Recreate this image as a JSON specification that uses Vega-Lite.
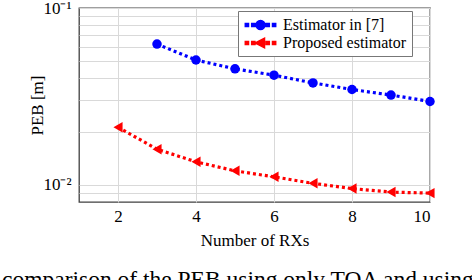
{
  "$schema": "https://vega.github.io/schema/vega-lite/v6.json",
  "width": 351,
  "height": 194,
  "autosize": {"type": "none"},
  "padding": {"left": 79, "top": 8, "right": 42, "bottom": 78},
  "config": {
    "font": "Liberation Serif",
    "view": {"stroke": "#404040", "strokeWidth": 1.3},
    "axis": {"labelColor": "#000", "titleColor": "#000", "titleFontWeight": "normal", "gridColor": "#d9d9d9", "gridWidth": 1}
  },
  "title": {
    "text": "comparison of the PEB using only TOA and using",
    "orient": "bottom",
    "anchor": "start",
    "frame": "group",
    "dx": -77,
    "offset": 20,
    "fontSize": 23.5,
    "fontWeight": "normal",
    "color": "#000",
    "font": "Liberation Serif"
  },
  "data": {
    "values": [
      {"series": "Estimator in [7]", "rx": 3, "peb": 0.0625},
      {"series": "Estimator in [7]", "rx": 4, "peb": 0.0508},
      {"series": "Estimator in [7]", "rx": 5, "peb": 0.0453},
      {"series": "Estimator in [7]", "rx": 6, "peb": 0.0417},
      {"series": "Estimator in [7]", "rx": 7, "peb": 0.0377},
      {"series": "Estimator in [7]", "rx": 8, "peb": 0.0346},
      {"series": "Estimator in [7]", "rx": 9, "peb": 0.0322},
      {"series": "Estimator in [7]", "rx": 10, "peb": 0.0296},
      {"series": "Proposed estimator", "rx": 2, "peb": 0.0212},
      {"series": "Proposed estimator", "rx": 3, "peb": 0.0159},
      {"series": "Proposed estimator", "rx": 4, "peb": 0.0135},
      {"series": "Proposed estimator", "rx": 5, "peb": 0.0120},
      {"series": "Proposed estimator", "rx": 6, "peb": 0.0111},
      {"series": "Proposed estimator", "rx": 7, "peb": 0.0102},
      {"series": "Proposed estimator", "rx": 8, "peb": 0.00953},
      {"series": "Proposed estimator", "rx": 9, "peb": 0.0091},
      {"series": "Proposed estimator", "rx": 10, "peb": 0.00898}
    ]
  },
  "encoding": {
    "x": {
      "field": "rx", "type": "quantitative",
      "scale": {"domain": [1, 10], "nice": false, "zero": false},
      "axis": {"values": [2, 4, 6, 8, 10], "title": "Number of RXs", "grid": true, "domain": false, "ticks": false, "labelFontSize": 17, "labelPadding": 6, "titleFontSize": 17, "titlePadding": 8}
    },
    "y": {
      "field": "peb", "type": "quantitative",
      "scale": {"type": "log", "domain": [0.008, 0.1], "nice": false},
      "axis": {
        "values": [0.009, 0.01, 0.02, 0.03, 0.04, 0.05, 0.06, 0.07, 0.08, 0.09, 0.1],
        "labelExpr": "datum.value == 0.1 ? '10⁻¹' : (datum.value == 0.01 ? '10⁻²' : '')",
        "title": "PEB [m]", "grid": true, "domain": false, "ticks": false,
        "labelFontSize": 17, "labelPadding": 8, "titleFontSize": 17, "titlePadding": -4
      }
    }
  },
  "layer": [
    {
      "mark": {"type": "line", "strokeWidth": 3.2, "strokeDash": [3, 3]},
      "encoding": {
        "color": {
          "field": "series", "type": "nominal",
          "scale": {"domain": ["Estimator in [7]", "Proposed estimator"], "range": ["#0000ff", "#ff0000"]},
          "legend": {
            "title": null,
            "orient": "none",
            "legendX": 159,
            "legendY": 3,
            "fillColor": "#ffffff",
            "strokeColor": "#777777",
            "padding": 5,
            "labelFontSize": 16,
            "labelColor": "#000",
            "symbolSize": 256,
            "symbolOffset": 8.5,
            "labelOffset": 13.5,
            "rowPadding": 1,
            "encode": {
              "symbols": {
                "update": {
                  "shape": {"signal": "datum.value == 'Estimator in [7]' ? 'M-1.9,-0.19 L-1.5,-0.19 L-1.5,0.19 L-1.9,0.19 Z M-1.1,-0.19 L-0.7,-0.19 L-0.7,0.19 L-1.1,0.19 Z M0.7,-0.19 L1.1,-0.19 L1.1,0.19 L0.7,0.19 Z M1.5,-0.19 L1.9,-0.19 L1.9,0.19 L1.5,0.19 Z M-0.56,0 A0.56,0.56 0 1,1 0.56,0 A0.56,0.56 0 1,1 -0.56,0 Z' : 'M-1.9,-0.19 L-1.5,-0.19 L-1.5,0.19 L-1.9,0.19 Z M-1.1,-0.19 L-0.7,-0.19 L-0.7,0.19 L-1.1,0.19 Z M0.7,-0.19 L1.1,-0.19 L1.1,0.19 L0.7,0.19 Z M1.5,-0.19 L1.9,-0.19 L1.9,0.19 L1.5,0.19 Z M-0.65,0 L0.5,-0.6 L0.5,0.6 Z'"},
                  "fill": {"signal": "datum.value == 'Estimator in [7]' ? '#0000ff' : '#ff0000'"},
                  "fillOpacity": {"value": 1},
                  "stroke": {"value": "transparent"},
                  "strokeDash": {"value": []}
                }
              }
            }
          }
        }
      }
    },
    {
      "transform": [{"filter": "datum.series == 'Estimator in [7]'"}],
      "mark": {"type": "point", "shape": "circle", "filled": true, "opacity": 1, "size": 90, "color": "#0000ff"}
    },
    {
      "transform": [{"filter": "datum.series == 'Proposed estimator'"}],
      "mark": {"type": "point", "shape": "triangle-left", "filled": true, "opacity": 1, "size": 110, "color": "#ff0000"}
    }
  ]
}
